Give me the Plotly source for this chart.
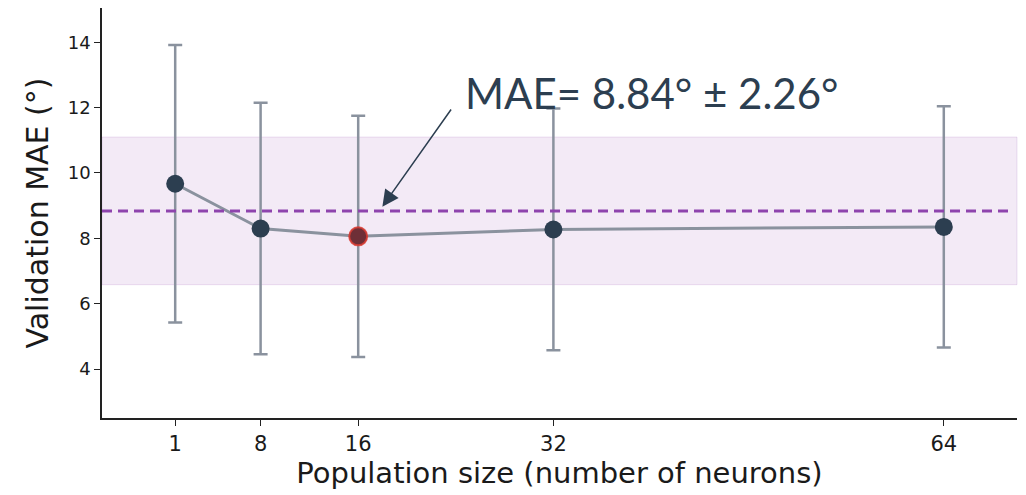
import plotly.graph_objects as go

pop_sizes = [1, 8, 16, 32, 64]
mae_mean = [9.67, 8.30, 8.06, 8.27, 8.35]
mae_std = [4.25, 3.85, 3.69, 3.70, 3.69]
best_idx = 2
overall_mae = 8.84
overall_std = 2.26
x_ticks = [1, 8, 16, 32, 64]
y_ticks = [4, 6, 8, 10, 12, 14]

dark = "#2c3e50"
grey = "#8a929e"
purple = "#8e44ad"

fig = go.Figure()

fig.add_shape(type="rect", xref="paper", yref="y", x0=0, x1=1,
              y0=overall_mae - overall_std, y1=overall_mae + overall_std,
              fillcolor="rgba(142,68,173,0.11)", line=dict(color="rgba(142,68,173,0.15)", width=1),
              layer="below")

fig.add_trace(go.Scatter(
    x=pop_sizes, y=mae_mean, mode="lines",
    line=dict(color=grey, width=3),
    error_y=dict(type="data", array=mae_std, visible=True, color=grey, thickness=2.5, width=7),
    showlegend=False, hoverinfo="skip"))

fig.add_shape(type="line", xref="paper", yref="y", x0=0, x1=0.995,
              y0=overall_mae, y1=overall_mae,
              line=dict(color=purple, width=3, dash="10px,6px"))

fig.add_trace(go.Scatter(
    x=pop_sizes, y=mae_mean, mode="markers",
    marker=dict(color=dark, size=18, line=dict(width=0)),
    showlegend=False))

fig.add_trace(go.Scatter(
    x=[pop_sizes[best_idx]], y=[mae_mean[best_idx]], mode="markers",
    marker=dict(color="#6e2f37", size=18, line=dict(color="rgba(220,60,50,0.85)", width=2)),
    showlegend=False))

fig.add_annotation(x=40.0, y=12.45, xref="x", yref="y",
                   text=f"MAE= {overall_mae:.2f}° ± {overall_std:.2f}°",
                   showarrow=False, font=dict(family="Lato, Open Sans, sans-serif", size=42, color=dark))
fig.add_annotation(x=17.98, y=8.97, xref="x", yref="y", ax=23.7, ay=11.99, axref="x", ayref="y",
                   text="", showarrow=True, arrowhead=2, arrowsize=2.2, arrowwidth=1.5,
                   arrowcolor=dark)

fig.update_layout(
    width=1026, height=495,
    margin=dict(l=94, r=17, t=0, b=85),
    plot_bgcolor="white", paper_bgcolor="white",
    font=dict(family="DejaVu Sans, sans-serif", color="#1a1a1a"),
)
fig.update_xaxes(range=[-5, 70], tickvals=x_ticks, ticktext=[str(v) for v in x_ticks],
                 showgrid=False, zeroline=False, showline=True, linecolor="#222", linewidth=1.5,
                 ticks="outside", ticklen=6, tickwidth=1.2, tickcolor="#222",
                 tickfont=dict(size=21), automargin=False,
                 title=dict(text="Population size (number of neurons)", font=dict(size=29), standoff=4))
fig.update_yaxes(range=[2.5, 15.05], tickvals=y_ticks,
                 showgrid=False, zeroline=False, showline=True, linecolor="#222", linewidth=1.5,
                 ticks="outside", ticklen=6, tickwidth=1.2, tickcolor="#222",
                 tickfont=dict(size=18), automargin=False,
                 title=dict(text="Validation MAE (°)", font=dict(size=30), standoff=10))

fig.write_html("out.html")
